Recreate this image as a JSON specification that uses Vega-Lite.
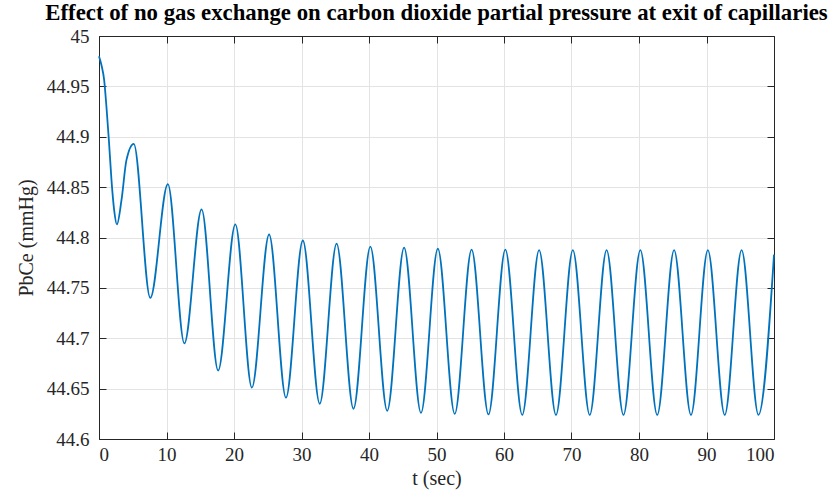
{
  "$schema": "https://vega.github.io/schema/vega-lite/v6.json",
  "width": 675,
  "height": 403,
  "autosize": {"type": "none"},
  "padding": {"left": 99, "top": 36, "right": 59, "bottom": 56},
  "background": "white",
  "title": {
    "text": "Effect of no gas exchange on carbon dioxide partial pressure at exit of capillaries",
    "font": "Liberation Serif",
    "fontSize": 22.8,
    "fontWeight": "bold",
    "color": "black",
    "anchor": "middle",
    "offset": 2
  },
  "config": {
    "view": {"stroke": null},
    "axis": {
      "labelFont": "Liberation Serif",
      "labelFontSize": 19,
      "labelColor": "#262626",
      "titleFont": "Liberation Serif",
      "titleFontSize": 20,
      "titleFontWeight": "normal",
      "titleColor": "#262626",
      "domainColor": "#262626",
      "domainWidth": 1,
      "tickColor": "#262626",
      "tickSize": -7,
      "tickWidth": 1,
      "gridColor": "#e3e3e3",
      "gridWidth": 1
    }
  },
  "data": {
    "values": [
      {"t": 0, "p": 44.980},
      {"t": 0.37, "p": 44.971},
      {"t": 0.77, "p": 44.956},
      {"t": 1.1, "p": 44.930},
      {"t": 1.46, "p": 44.897},
      {"t": 1.85, "p": 44.857},
      {"t": 2.25, "p": 44.827},
      {"t": 2.65, "p": 44.813},
      {"t": 3.33, "p": 44.837},
      {"t": 4.07, "p": 44.877},
      {"t": 5.15, "p": 44.893},
      {"t": 7.6, "p": 44.740},
      {"t": 10.2, "p": 44.853},
      {"t": 12.65, "p": 44.695},
      {"t": 15.2, "p": 44.828},
      {"t": 17.65, "p": 44.668},
      {"t": 20.2, "p": 44.813},
      {"t": 22.65, "p": 44.651},
      {"t": 25.2, "p": 44.803},
      {"t": 27.7, "p": 44.641},
      {"t": 30.2, "p": 44.797},
      {"t": 32.7, "p": 44.635},
      {"t": 35.2, "p": 44.794},
      {"t": 37.7, "p": 44.630},
      {"t": 40.2, "p": 44.791},
      {"t": 42.7, "p": 44.628},
      {"t": 45.2, "p": 44.790},
      {"t": 47.7, "p": 44.626},
      {"t": 50.2, "p": 44.789},
      {"t": 52.7, "p": 44.625},
      {"t": 55.2, "p": 44.788},
      {"t": 57.7, "p": 44.6245},
      {"t": 60.2, "p": 44.788},
      {"t": 62.7, "p": 44.624},
      {"t": 65.2, "p": 44.7875},
      {"t": 67.7, "p": 44.624},
      {"t": 70.2, "p": 44.7875},
      {"t": 72.7, "p": 44.624},
      {"t": 75.2, "p": 44.7875},
      {"t": 77.7, "p": 44.624},
      {"t": 80.2, "p": 44.7875},
      {"t": 82.7, "p": 44.624},
      {"t": 85.2, "p": 44.7875},
      {"t": 87.7, "p": 44.624},
      {"t": 90.2, "p": 44.7875},
      {"t": 92.7, "p": 44.624},
      {"t": 95.2, "p": 44.7875},
      {"t": 97.7, "p": 44.624},
      {"t": 100, "p": 44.783}
    ]
  },
  "layer": [
    {
      "mark": {"type": "line", "strokeOpacity": 0},
      "encoding": {
        "x": {
          "field": "t", "type": "quantitative",
          "scale": {"domain": [0, 100], "nice": false, "zero": false},
          "axis": {"orient": "top", "values": [0,10,20,30,40,50,60,70,80,90,100], "labels": false, "title": null, "grid": false}
        },
        "y": {
          "field": "p", "type": "quantitative",
          "scale": {"domain": [44.6, 45], "nice": false, "zero": false},
          "axis": {"orient": "right", "values": [44.6,44.65,44.7,44.75,44.8,44.85,44.9,44.95,45], "labels": false, "title": null, "grid": false}
        }
      }
    },
    {
      "mark": {"type": "line", "interpolate": "monotone", "color": "#0072BD", "strokeWidth": 1.8},
      "encoding": {
        "x": {
          "field": "t", "type": "quantitative",
          "scale": {"domain": [0, 100], "nice": false, "zero": false},
          "axis": {"orient": "bottom", "values": [0,10,20,30,40,50,60,70,80,90,100], "title": "t (sec)", "labelFont": "Liberation Serif", "labelFontSize": 19, "labelPadding": 13, "titlePadding": 4, "grid": true}
        },
        "y": {
          "field": "p", "type": "quantitative",
          "scale": {"domain": [44.6, 45], "nice": false, "zero": false},
          "axis": {"orient": "left", "values": [44.6,44.65,44.7,44.75,44.8,44.85,44.9,44.95,45], "format": "~g", "title": "PbCe (mmHg)", "labelFont": "Liberation Serif", "labelFontSize": 19, "labelPadding": 17, "titlePadding": 10, "grid": true}
        }
      }
    }
  ],
  "resolve": {"axis": {"x": "independent", "y": "independent"}}
}
